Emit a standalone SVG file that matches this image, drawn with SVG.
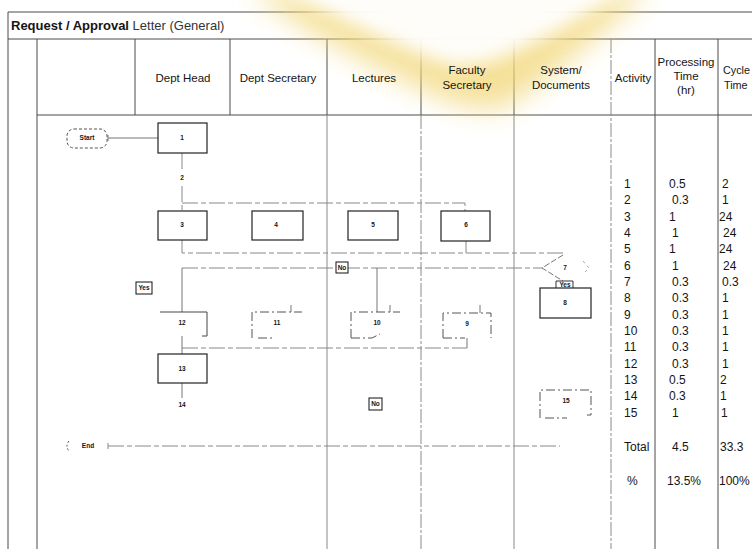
<svg xmlns="http://www.w3.org/2000/svg" width="752" height="549" viewBox="0 0 752 549">
<defs>
<style>
.t{font-family:"Liberation Sans",Arial,Helvetica,sans-serif;fill:#151515}
.ti{font-size:13px}
.h{font-size:11.5px;text-anchor:middle}
.n{font-size:12px}
.lbl{font-size:6.5px;font-weight:bold;text-anchor:middle}
.g{stroke:#4a4a4a;stroke-width:1;fill:none}
.gl{stroke:#8a8a8a;stroke-width:1;fill:none}
.gd{stroke:#8a8a8a;stroke-width:1;fill:none;stroke-dasharray:14 2 3 2}
.box{fill:#fff;stroke:#222;stroke-width:1.2}
.ob{fill:none;stroke:#555;stroke-width:1;stroke-dasharray:9 3 2 3}
.c{stroke:#777;stroke-width:1;fill:none}
.cd{stroke:#888;stroke-width:1;fill:none;stroke-dasharray:16 3 5 3}
.tag{fill:#fff;stroke:#111;stroke-width:1}
</style>
<filter id="blur" x="-50%" y="-50%" width="200%" height="200%"><feGaussianBlur stdDeviation="14"/></filter>
<filter id="blur2" x="-50%" y="-50%" width="200%" height="200%"><feGaussianBlur stdDeviation="9"/></filter>
</defs>
<rect width="752" height="549" fill="#fff"/>

<g id="grid">
<path class="g" d="M8,12 H752 M8,12 V549 M8,39 H752 M37,115 H752"/>
<path class="g" d="M37,39 V115 M135,39 V115 M230,39 V115 M327,39 V115 M421,39 V115 M514,39 V115 M655,39 V549 M718,39 V549"/>
<path class="g" d="M37,115 V549" stroke-width="1.8"/>
<path class="gl" d="M327,115 V549 M514,115 V549"/>
<path class="gd" d="M421,115 V549 M611,39 V549"/>
</g>

<g id="glare">
<path d="M250,-10 C290,20 340,50 400,78 C440,98 470,112 500,108 C540,90 590,40 650,-10 Z" fill="#f2d675" opacity="0.75" filter="url(#blur)"/>
<path d="M270,-20 C320,10 380,40 440,62 C470,72 500,60 540,40 C580,20 610,0 630,-20 Z" fill="#ffffff" opacity="0.95" filter="url(#blur2)"/>
</g>

<g id="title">
<text class="t ti" x="11" y="30"><tspan font-weight="bold">Request / Approval</tspan><tspan fill="#333"> Letter  (General)</tspan></text>
</g>

<g id="header">
<text class="t h" x="183" y="82">Dept Head</text>
<text class="t h" x="278" y="82">Dept Secretary</text>
<text class="t h" x="374" y="82">Lectures</text>
<text class="t h" x="467" y="74">Faculty</text>
<text class="t h" x="467" y="89">Secretary</text>
<text class="t h" x="561" y="74">System/</text>
<text class="t h" x="561" y="89">Documents</text>
<text class="t h" x="633" y="82">Activity</text>
<text class="t h" x="686" y="66">Processing</text>
<text class="t h" x="686" y="80">Time</text>
<text class="t h" x="686" y="94">(hr)</text>
<text class="t" font-size="10.8" x="723" y="74">Cycle</text>
<text class="t" font-size="10.8" x="724" y="89">Time</text>
</g>

<g id="connectors">
<path class="c" d="M108,138 H158 M108,135 V141"/>
<path class="cd" d="M182,153 V170 M182,186 V211"/>
<path class="cd" d="M182,203 H465 V211"/>
<path class="cd" d="M182,240 V253 H563 V256 M466,241 V253"/>
<path class="cd" d="M182,268 H542"/>
<path class="c" d="M182,268 V312 M377,268 V312"/>
<path class="c" d="M291,305 V312 M390,305 V312 M480,305 V313"/>
<path class="cd" d="M182,348 H467"/>
<path class="c" d="M182,336 V354 M467,338 V348"/>
<path class="c" d="M182,383 V398"/>
<path class="cd" d="M108,446 H560 M108,443 V449"/>
</g>

<g id="n-start">
<rect x="67" y="129" width="40" height="19" rx="7" fill="none" stroke="#555" stroke-dasharray="3 2"/>
<text class="t lbl" x="87" y="140">Start</text>
</g>
<g id="n-1"><rect class="box" x="158" y="123" width="49" height="30"/><text class="t lbl" x="182" y="140">1</text></g>
<g id="n-2"><text class="t lbl" x="182" y="180">2</text></g>
<g id="n-3"><rect class="box" x="158" y="211" width="49" height="29"/><text class="t lbl" x="182" y="227">3</text></g>
<g id="n-4"><rect class="box" x="252" y="211" width="51" height="29"/><text class="t lbl" x="276" y="227">4</text></g>
<g id="n-5"><rect class="box" x="348" y="211" width="50" height="29"/><text class="t lbl" x="373" y="227">5</text></g>
<g id="n-6"><rect class="box" x="441" y="211" width="49" height="30"/><text class="t lbl" x="466" y="227">6</text></g>
<g id="n-7">
<path d="M563,255 L542,268 L563,281" fill="none" stroke="#777" stroke-dasharray="6 2"/>
<path d="M583,261 L589,268 L583,274" fill="none" stroke="#aaa" stroke-dasharray="3 3"/>
<text class="t lbl" x="565" y="270">7</text>
</g>
<g id="n-8">
<path d="M556,288 V281 H573 V288" fill="none" stroke="#333"/>
<text class="t lbl" x="565" y="287">Yes</text>
<rect class="box" x="540" y="288" width="51" height="30"/><text class="t lbl" x="565" y="305">8</text>
</g>
<g id="n-9"><path class="ob" d="M443,338 V313 H491 V338 M443,338 H465"/><text class="t lbl" x="467" y="326">9</text></g>
<g id="n-10"><path class="ob" d="M351,338 V312 H400 M351,338 H372 L380,334"/><text class="t lbl" x="377" y="325">10</text></g>
<g id="n-11"><path class="ob" d="M252,338 V312 H302 M258,338 H272"/><text class="t lbl" x="277" y="325">11</text></g>
<g id="n-12"><path d="M160,312 H207 V336 H202" fill="none" stroke="#444"/><text class="t lbl" x="182" y="325">12</text></g>
<g id="n-13"><rect class="box" x="158" y="354" width="49" height="29"/><text class="t lbl" x="182" y="371">13</text></g>
<g id="n-14"><text class="t lbl" x="182" y="407">14</text></g>
<g id="n-15"><path class="ob" d="M540,418 V390 H591 V415 H587 M545,418 H567"/><text class="t lbl" x="566" y="403">15</text></g>
<g id="n-end">
<path d="M69,441 Q65,446 69,451" fill="none" stroke="#555" stroke-dasharray="2 2"/>
<text class="t lbl" x="88" y="448">End</text>
</g>
<g id="tags">
<rect class="tag" x="136" y="282" width="16" height="12"/><text class="t lbl" x="144" y="290">Yes</text>
<rect class="tag" x="336" y="262" width="12" height="11"/><text class="t lbl" x="342" y="270">No</text>
<rect class="tag" x="369" y="398" width="13" height="12"/><text class="t lbl" x="375.5" y="406">No</text>
</g>

<g id="table" class="t n">
<text x="624" y="188">1</text><text x="669" y="188">0.5</text><text x="722" y="188">2</text>
<text x="624" y="204">2</text><text x="672" y="204">0.3</text><text x="722" y="204">1</text>
<text x="624" y="221">3</text><text x="669" y="221">1</text><text x="719" y="221">24</text>
<text x="624" y="237">4</text><text x="672" y="237">1</text><text x="723" y="237">24</text>
<text x="624" y="253">5</text><text x="669" y="253">1</text><text x="719" y="253">24</text>
<text x="624" y="270">6</text><text x="672" y="270">1</text><text x="723" y="270">24</text>
<text x="624" y="286">7</text><text x="672" y="286">0.3</text><text x="722" y="286">0.3</text>
<text x="624" y="302">8</text><text x="672" y="302">0.3</text><text x="722" y="302">1</text>
<text x="624" y="319">9</text><text x="672" y="319">0.3</text><text x="722" y="319">1</text>
<text x="624" y="335">10</text><text x="672" y="335">0.3</text><text x="722" y="335">1</text>
<text x="624" y="351">11</text><text x="672" y="351">0.3</text><text x="722" y="351">1</text>
<text x="624" y="368">12</text><text x="672" y="368">0.3</text><text x="722" y="368">1</text>
<text x="624" y="384">13</text><text x="669" y="384">0.5</text><text x="720" y="384">2</text>
<text x="624" y="400">14</text><text x="669" y="400">0.3</text><text x="720" y="400">1</text>
<text x="624" y="417">15</text><text x="672" y="417">1</text><text x="721" y="417">1</text>
<text x="624" y="451">Total</text><text x="672" y="451">4.5</text><text x="720" y="451">33.3</text>
<text x="627" y="485">%</text><text x="667" y="485">13.5%</text><text x="719" y="485">100%</text>
</g>
</svg>
